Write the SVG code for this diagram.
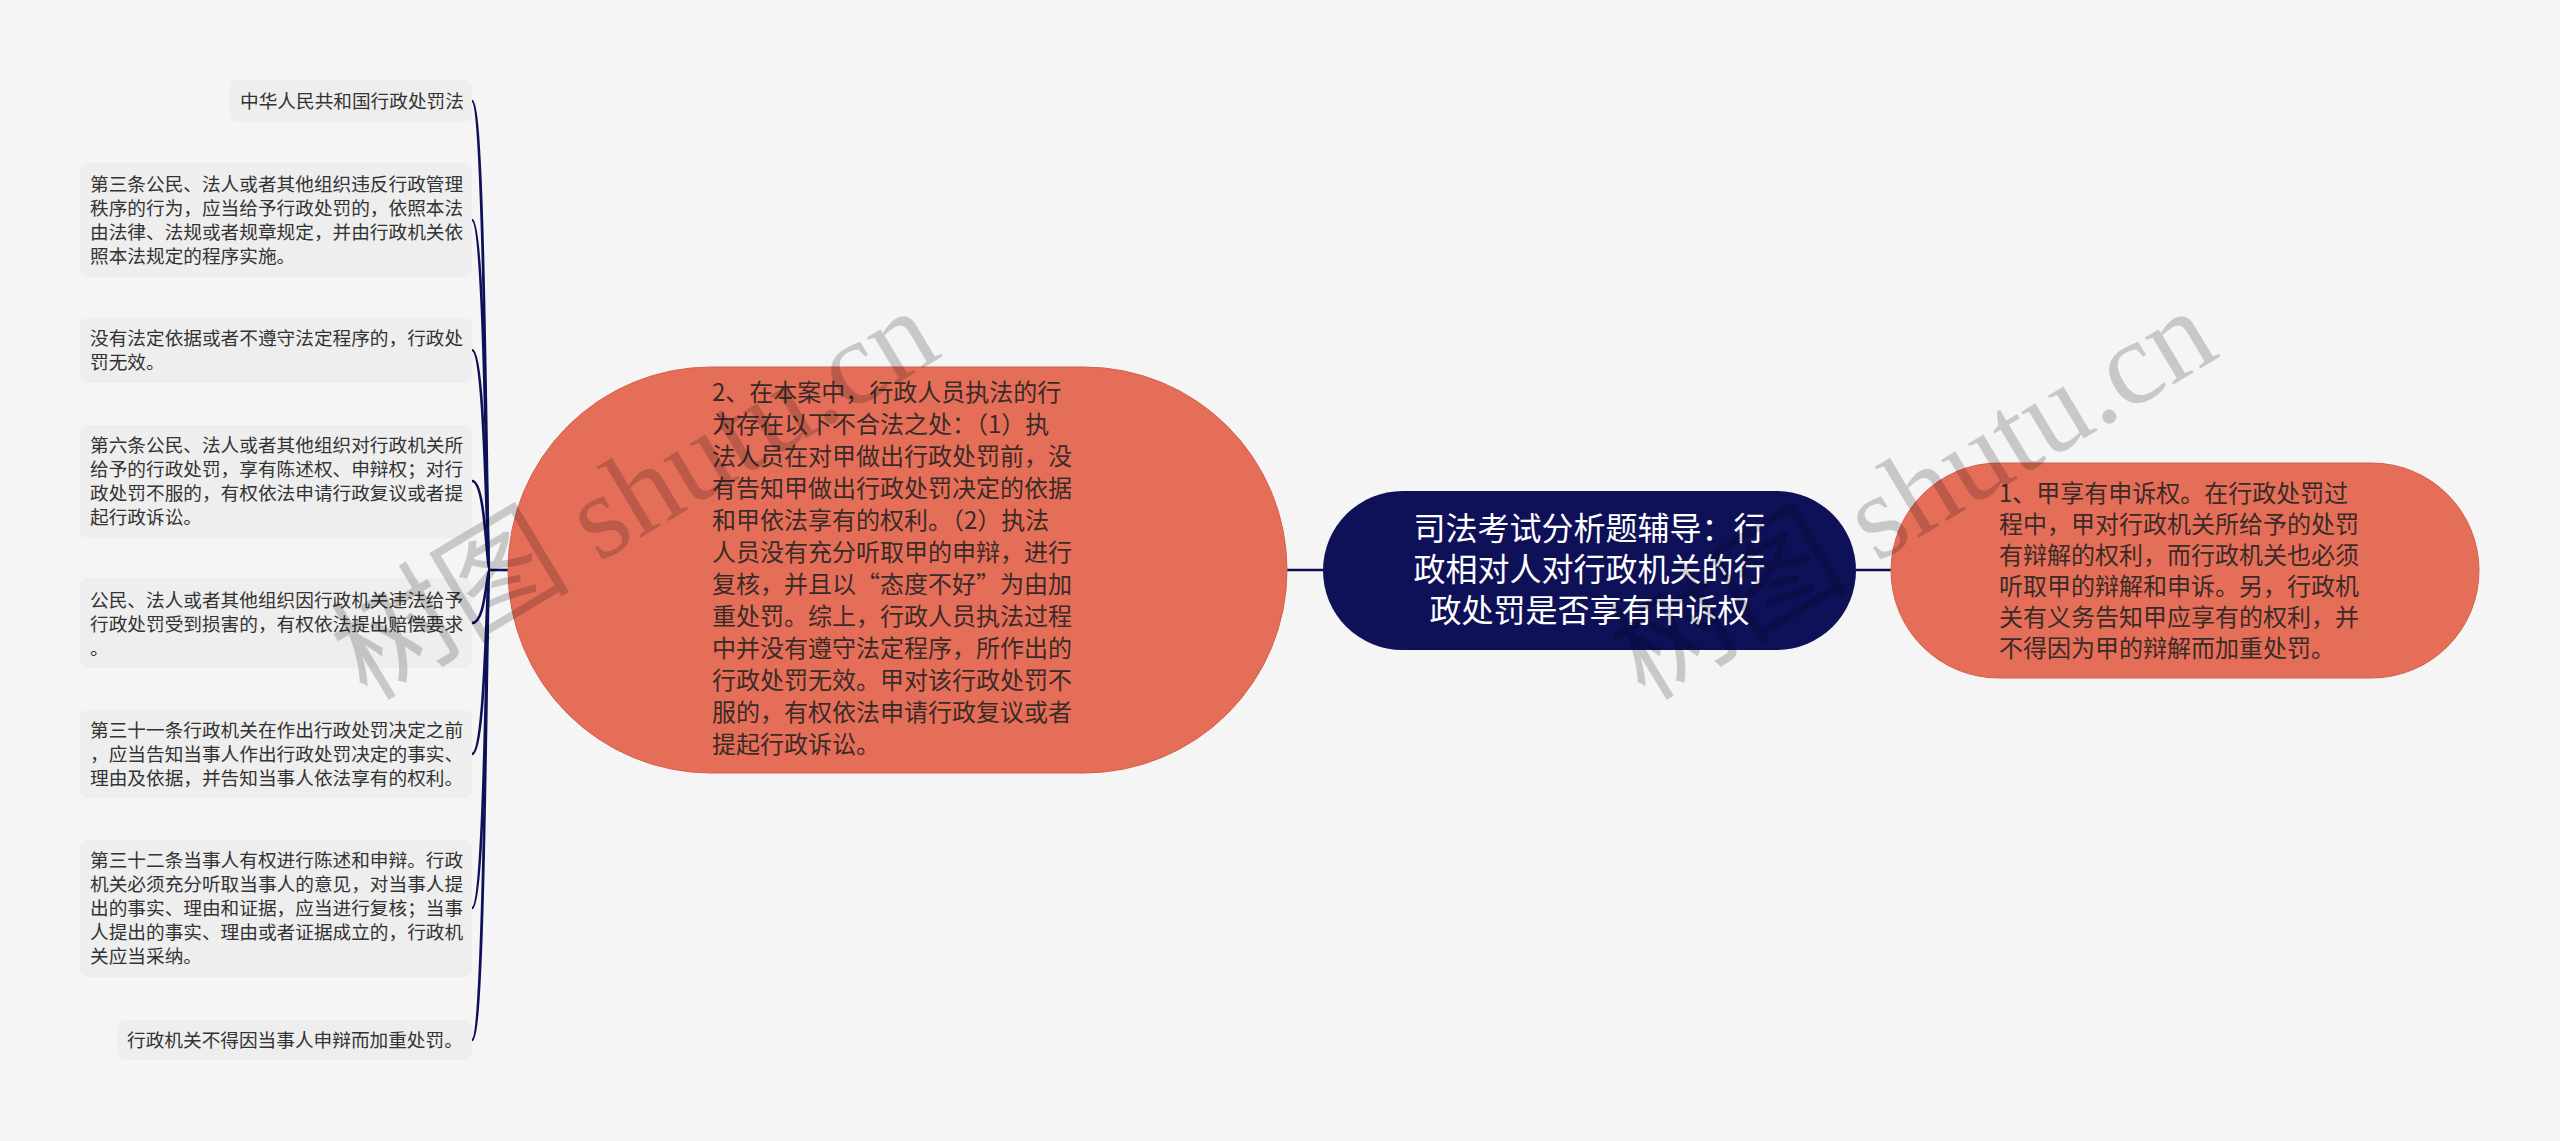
<svg xmlns="http://www.w3.org/2000/svg" width="2560" height="1141" viewBox="0 0 2560 1141">
<style>
.bg{fill:#f5f5f5}
.leaf{fill:#eeeeee}
.lt{font-family:"Noto Sans CJK SC","Noto Sans",sans-serif;font-size:18.67px;fill:#333333}
.sal{fill:#e56e59;stroke:#d4604c;stroke-width:1}
.st{font-family:"Noto Sans CJK SC","Noto Sans",sans-serif;font-size:24px;fill:#3a2b28}
.root{fill:#0e1158}
.rt{font-family:"Noto Sans CJK SC","Noto Sans",sans-serif;font-size:32px;fill:#ffffff;text-anchor:middle}
.conn path,.conn line{fill:none;stroke:#0e1158;stroke-width:2.6}
.wm{font-family:"Liberation Serif","Noto Sans CJK SC",serif;font-size:120px;fill:#000000;fill-opacity:0.18}
</style>
<rect class="bg" x="0" y="0" width="2560" height="1141"/>

<g id="connectors" class="conn">
<line x1="1323" y1="570" x2="1287" y2="570"/>
<line x1="1856" y1="570" x2="1891" y2="570"/>
<line x1="509" y1="570" x2="489" y2="570"/>
<path d="M472 101 C486 101 486 570 490 570"/>
<path d="M472 220 C486 220 486 570 490 570"/>
<path d="M472 350 C486 350 486 570 490 570"/>
<path d="M472 481 C486 481 486 570 490 570"/>
<path d="M472 623 C486 623 486 570 490 570"/>
<path d="M472 754 C486 754 486 570 490 570"/>
<path d="M472 908 C486 908 486 570 490 570"/>
<path d="M472 1040 C486 1040 486 570 490 570"/>
</g>

<g id="root">
<rect class="root" x="1323" y="491" width="533" height="159" rx="79.5" ry="79.5"/>
<text class="rt" x="1589.5" y="540">司法考试分析题辅导：行</text>
<text class="rt" x="1589.5" y="581">政相对人对行政机关的行</text>
<text class="rt" x="1589.5" y="622">政处罚是否享有申诉权</text>
</g>

<g id="node-right">
<rect class="sal" x="1891" y="463" width="588" height="215" rx="107.5" ry="107.5"/>
<text class="st" x="1999" y="501.5">1、甲享有申诉权。在行政处罚过</text>
<text class="st" x="1999" y="532.5">程中，甲对行政机关所给予的处罚</text>
<text class="st" x="1999" y="563.5">有辩解的权利，而行政机关也必须</text>
<text class="st" x="1999" y="594.5">听取甲的辩解和申诉。另，行政机</text>
<text class="st" x="1999" y="625.5">关有义务告知甲应享有的权利，并</text>
<text class="st" x="1999" y="656.5">不得因为甲的辩解而加重处罚。</text>
</g>

<g id="node-left">
<rect class="sal" x="508" y="367" width="779" height="406" rx="203" ry="203"/>
<text class="st" x="712" y="401.4">2、在本案中，行政人员执法的行</text>
<text class="st" x="712" y="433.4">为存在以下不合法之处：（1）执</text>
<text class="st" x="712" y="465.4">法人员在对甲做出行政处罚前，没</text>
<text class="st" x="712" y="497.4">有告知甲做出行政处罚决定的依据</text>
<text class="st" x="712" y="529.4">和甲依法享有的权利。（2）执法</text>
<text class="st" x="712" y="561.4">人员没有充分听取甲的申辩，进行</text>
<text class="st" x="712" y="593.4">复核，并且以“态度不好”为由加</text>
<text class="st" x="712" y="625.4">重处罚。综上，行政人员执法过程</text>
<text class="st" x="712" y="657.4">中并没有遵守法定程序，所作出的</text>
<text class="st" x="712" y="689.4">行政处罚无效。甲对该行政处罚不</text>
<text class="st" x="712" y="721.4">服的，有权依法申请行政复议或者</text>
<text class="st" x="712" y="753.4">提起行政诉讼。</text>
</g>

<g id="leaf-1">
<rect class="leaf" x="230" y="80" width="242" height="42" rx="8"/>
<text class="lt" x="240" y="107.5">中华人民共和国行政处罚法</text>
</g>
<g id="leaf-2">
<rect class="leaf" x="80" y="163" width="392" height="114" rx="8"/>
<text class="lt" x="90" y="191">第三条公民、法人或者其他组织违反行政管理</text>
<text class="lt" x="90" y="215">秩序的行为，应当给予行政处罚的，依照本法</text>
<text class="lt" x="90" y="239">由法律、法规或者规章规定，并由行政机关依</text>
<text class="lt" x="90" y="263">照本法规定的程序实施。</text>
</g>
<g id="leaf-3">
<rect class="leaf" x="80" y="318" width="392" height="65" rx="8"/>
<text class="lt" x="90" y="345">没有法定依据或者不遵守法定程序的，行政处</text>
<text class="lt" x="90" y="369">罚无效。</text>
</g>
<g id="leaf-4">
<rect class="leaf" x="80" y="425" width="392" height="113" rx="8"/>
<text class="lt" x="90" y="452">第六条公民、法人或者其他组织对行政机关所</text>
<text class="lt" x="90" y="476">给予的行政处罚，享有陈述权、申辩权；对行</text>
<text class="lt" x="90" y="500">政处罚不服的，有权依法申请行政复议或者提</text>
<text class="lt" x="90" y="524">起行政诉讼。</text>
</g>
<g id="leaf-5">
<rect class="leaf" x="80" y="578" width="392" height="90" rx="8"/>
<text class="lt" x="90" y="607">公民、法人或者其他组织因行政机关违法给予</text>
<text class="lt" x="90" y="631">行政处罚受到损害的，有权依法提出赔偿要求</text>
<text class="lt" x="90" y="655">。</text>
</g>
<g id="leaf-6">
<rect class="leaf" x="80" y="710" width="392" height="88" rx="8"/>
<text class="lt" x="90" y="737">第三十一条行政机关在作出行政处罚决定之前</text>
<text class="lt" x="90" y="761">，应当告知当事人作出行政处罚决定的事实、</text>
<text class="lt" x="90" y="785">理由及依据，并告知当事人依法享有的权利。</text>
</g>
<g id="leaf-7">
<rect class="leaf" x="80" y="840" width="392" height="137" rx="8"/>
<text class="lt" x="90" y="867">第三十二条当事人有权进行陈述和申辩。行政</text>
<text class="lt" x="90" y="891">机关必须充分听取当事人的意见，对当事人提</text>
<text class="lt" x="90" y="915">出的事实、理由和证据，应当进行复核；当事</text>
<text class="lt" x="90" y="939">人提出的事实、理由或者证据成立的，行政机</text>
<text class="lt" x="90" y="963">关应当采纳。</text>
</g>
<g id="leaf-8">
<rect class="leaf" x="118" y="1020" width="354" height="40" rx="8"/>
<text class="lt" x="127" y="1046.5">行政机关不得因当事人申辩而加重处罚。</text>
</g>

<g id="watermark">
<text class="wm" x="0" y="0" transform="translate(367 702) rotate(-31)">树图 shutu.cn</text>
<text class="wm" x="0" y="0" transform="translate(1645 702) rotate(-31)">树图 shutu.cn</text>
</g>
</svg>
